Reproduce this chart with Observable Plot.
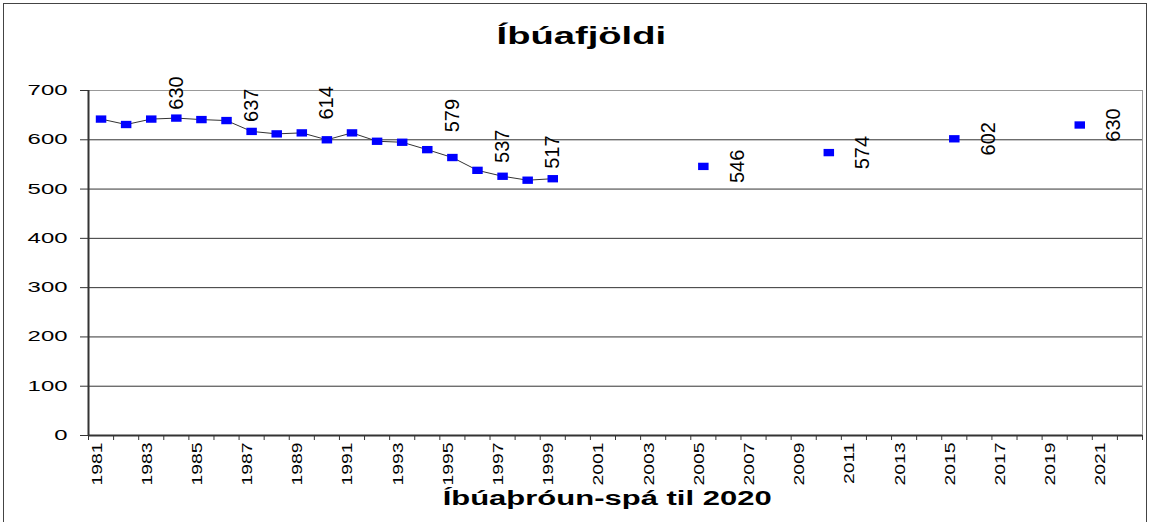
<!DOCTYPE html>
<html>
<head>
<meta charset="utf-8">
<script src="https://cdn.jsdelivr.net/npm/d3@7"></script>
<script src="https://cdn.jsdelivr.net/npm/@observablehq/plot@0.6"></script>
<style>
  html, body { margin: 0; padding: 0; background: #fff; overflow: hidden; }
  body { width: 1151px; height: 522px; position: relative; font-family: Arial, "Liberation Sans", sans-serif; }
  #border { position: absolute; left: 3px; top: 3px; width: 1144px; height: 560px; border: 1px solid #444; box-sizing: border-box; }
  .ttl { position: absolute; left: 0; width: 1151px; text-align: center; font-weight: bold; color: #000; white-space: nowrap; }
  .ttl span { display: inline-block; }
  #title { top: 24px; font-size: 24px; line-height: 24px; left: 6px; }
  #title span { transform: scaleX(1.59); }
  #xtitle { top: 488px; font-size: 20px; line-height: 20px; left: 32px; }
  #xtitle span { transform: scaleX(1.55); }
  #chart { position: absolute; left: 0; top: 62px; }
</style>
</head>
<body>
<div id="border"></div>
<div id="title" class="ttl"><span>Íbúafjöldi</span></div>
<div id="chart"></div>
<div id="xtitle" class="ttl"><span>Íbúaþróun-spá til 2020</span></div>
<script>
// ---- data ----
const years = [1981,1982,1983,1984,1985,1986,1987,1988,1989,1990,1991,1992,1993,1994,1995,1996,1997,1998,1999,2000,2001,2002,2003,2004,2005,2006,2007,2008,2009,2010,2011,2012,2013,2014,2015,2016,2017,2018,2019,2020,2021,2022];
const xTickLabels = [1981,1983,1985,1987,1989,1991,1993,1995,1997,1999,2001,2003,2005,2007,2009,2011,2013,2015,2017,2019,2021];
const yTicks = [0,100,200,300,400,500,600,700];

const histYears  = [1981,1982,1983,1984,1985,1986,1987,1988,1989,1990,1991,1992,1993,1994,1995,1996,1997,1998,1999];
const histValues = [642, 631, 642, 644, 641, 639, 617, 612, 614, 600, 614, 597, 595, 580, 564, 538, 526, 518, 521];

const forecastYears  = [2005, 2010, 2015, 2020];
const forecastValues = [546, 574, 602, 630];

const histLabelYears = [1984, 1987, 1990, 1995, 1997, 1999];
const histLabelTexts = ["630", "637", "614", "579", "537", "517"];
const histLabelAt    = [695, 670, 675, 649, 587, 575];

// ---- tables ----
const hist = histYears.map((year, i) => ({year, value: histValues[i]}));
const forecast = forecastYears.map((year, i) => ({year, value: forecastValues[i]}));
const points = hist.concat(forecast);
const histLabels = histLabelYears.map((year, i) => ({year, at: histLabelAt[i], text: histLabelTexts[i]}));
const boundaries = years.map(y => y - 0.5).concat([years[years.length - 1] + 0.5]);

const rectSymbol = {
  draw(context, size) {
    const r = Math.sqrt(size / Math.PI);
    context.rect(-r * 1.25, -r * 0.875, r * 2.5, r * 1.75);
  }
};

const font = 'Arial, "Liberation Sans", sans-serif';
const dark = "#333";

const chart = Plot.plot({
  width: 1151,
  height: 424,
  marginLeft: 88,
  marginRight: 9,
  marginTop: 28,
  marginBottom: 51,
  style: {fontFamily: font, color: "#000", background: "transparent", overflow: "visible"},
  x: {type: "linear", domain: [boundaries[0], boundaries[boundaries.length - 1]]},
  y: {domain: [0, 700]},
  marks: [
    Plot.frame({stroke: "#999"}),
    Plot.ruleY(yTicks.filter(d => d > 0 && d < 700), {stroke: dark, strokeWidth: 1}),
    Plot.axisY({ticks: yTicks, tickSize: 8, tickPadding: 13, fontSize: 14, stroke: dark, label: null, tickFormat: d => `${d}`}),
    Plot.axisX({ticks: boundaries, tickSize: 5, tickPadding: 0, stroke: dark, label: null, tickFormat: () => ""}),
    Plot.axisX({ticks: xTickLabels, tickSize: 0, tickPadding: 7, tickRotate: -90, fontSize: 14, dx: -4, label: null, tickFormat: d => `${d}`}),
    Plot.ruleX([boundaries[0]], {stroke: dark, strokeWidth: 2}),
    Plot.ruleY([0], {stroke: dark, strokeWidth: 2}),
    Plot.line(hist, {x: "year", y: "value", stroke: dark, strokeWidth: 1}),
    Plot.dot(points, {x: "year", y: "value", symbol: rectSymbol, r: 4.2, fill: "#0000ff", stroke: null}),
    Plot.text(histLabels, {x: "year", y: "at", text: "text", rotate: -90, fontSize: 20, fill: "#000", ariaLabel: "data label"}),
    Plot.text(forecast, {x: "year", y: "value", text: d => `${d.value}`, rotate: -90, dx: 34, fontSize: 20, fill: "#000", ariaLabel: "data label"})
  ]
});

document.getElementById("chart").appendChild(chart);

// stretch/compress label glyphs along their reading direction, as in the original
function stretch(selector, factor) {
  chart.querySelectorAll(selector).forEach(t => {
    const len = t.getComputedTextLength();
    if (len > 0) {
      t.setAttribute("textLength", (len * factor).toFixed(1));
      t.setAttribute("lengthAdjust", "spacingAndGlyphs");
    }
  });
}
stretch('g[aria-label="y-axis tick label"] text', 1.71);
stretch('g[aria-label="x-axis tick label"] text', 1.38);
stretch('g[aria-label="data label"] text', 0.85);
</script>
</body>
</html>
